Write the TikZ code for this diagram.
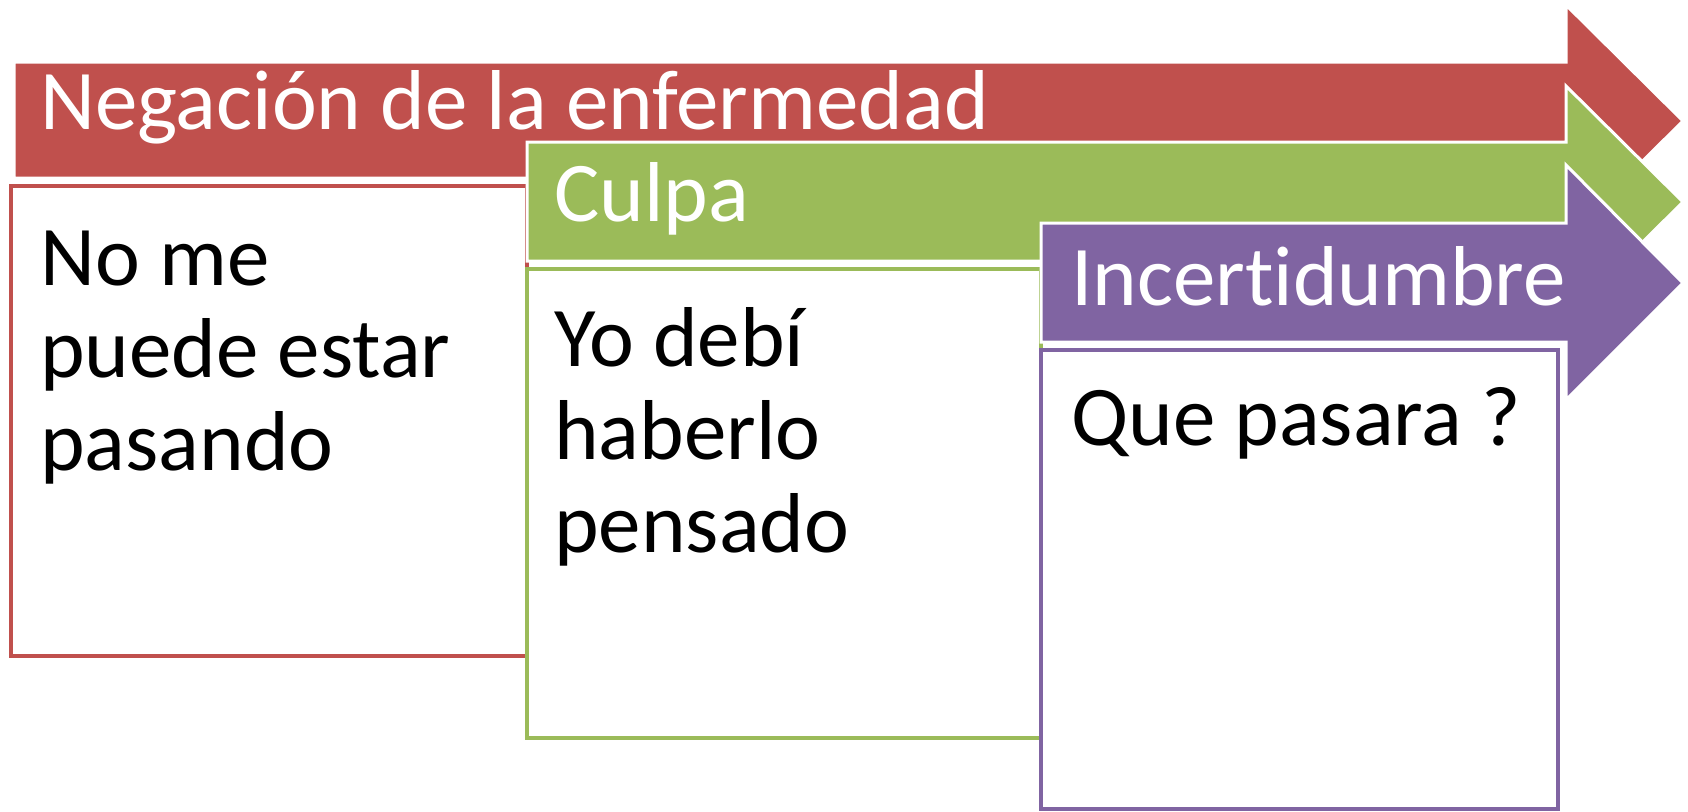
\documentclass[tikz,border=0pt]{standalone}
\usepackage{fontspec}
\setmainfont{Carlito}[Ligatures=NoCommon]
\definecolor{cred}{HTML}{C0504D}
\definecolor{cgreen}{HTML}{9BBB59}
\definecolor{cpurple}{HTML}{8064A2}
\begin{document}
\begin{tikzpicture}[x=1pt,y=-1pt,
  arrowshape/.style={fill=#1,draw=white,line width=3pt,line join=miter},
  bodybox/.style={fill=white,draw=#1,line width=4pt},
  headtxt/.style={anchor=base west,inner sep=0pt,text=white,font=\fontsize{85}{93}\selectfont},
  bodytxt/.style={anchor=base west,inner sep=0pt,text=black,font=\fontsize{85}{93}\selectfont}]
\useasboundingbox (0,0) rectangle (1688,811);
% red
\draw[arrowshape=cred] (14,62) -- (1566,62) -- (1566,5) -- (1683,121) -- (1566,237) -- (1566,178) -- (14,178) -- cycle;
\node[headtxt] (t1) at (40,129) {Negación de la enfermedad};
\draw[bodybox=cred] (11,186) rectangle (527,656);
\node[bodytxt] (b1a) at (40,285) {No me};
\node[bodytxt] (b1b) at (40,377) {puede estar};
\node[bodytxt] (b1c) at (40,470) {pasando};
% green
\draw[arrowshape=cgreen] (527,142) -- (1566,142) -- (1566,86) -- (1683,202) -- (1566,318) -- (1566,261) -- (527,261) -- cycle;
\node[headtxt] (t2) at (554,221) {Culpa};
\draw[bodybox=cgreen] (527,269) rectangle (1041,738);
\node[bodytxt] (b2a) at (554,366) {Yo debí};
\node[bodytxt] (b2b) at (554,459) {haberlo};
\node[bodytxt] (b2c) at (554,552) {pensado};
% purple
\draw[arrowshape=cpurple] (1041,223) -- (1566,223) -- (1566,165) -- (1683,283) -- (1566,400) -- (1566,342) -- (1041,342) -- cycle;
\node[headtxt] (t3) at (1071,305) {Incertidumbre};
\draw[bodybox=cpurple] (1041,350) rectangle (1558,809);
\node[bodytxt] (b3) at (1071,445) {Que pasara ?};
\end{tikzpicture}
\end{document}
